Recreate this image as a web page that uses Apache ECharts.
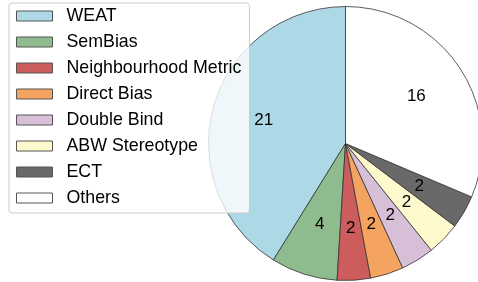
<!DOCTYPE html>
<html>
<head>
<meta charset="utf-8">
<style>
    html, body {margin: 0; padding: 0; background: #fff;}
    #chart-1 {width: 478px; height: 282px;}
</style>
<script src="https://cdn.jsdelivr.net/npm/echarts@6/dist/echarts.min.js"></script>
</head>
<body>
<div id="chart-1"></div>
<script type="text/javascript">
    // data
    var names = ['WEAT', 'SemBias', 'Neighbourhood Metric', 'Direct Bias', 'Double Bind', 'ABW Stereotype', 'ECT', 'Others'];
    var counts = [21, 4, 2, 2, 2, 2, 2, 16];
    var colors = ['#add8e6', '#8fbc8f', '#cd5c5c', '#f4a460', '#d8bfd8', '#fffacd', '#696969', '#ffffff'];

    var pieData = names.map(function (n, i) {
        return {name: n, value: counts[i], itemStyle: {color: colors[i]}};
    });
    // same slices, invisible, only used to put the numbers at 0.6 of the radius
    var labelData = names.map(function (n, i) {
        return {name: n, value: counts[i]};
    });

    var myChart = echarts.init(document.getElementById('chart-1'), null, {renderer: 'canvas'});
    var option = {
        animation: false,
        legend: {
            orient: 'vertical',
            left: 9,
            top: 3,
            data: names,
            icon: 'rect',
            itemWidth: 36,
            itemHeight: 10,
            itemGap: 8,
            padding: [4, 8, 6, 7],
            backgroundColor: 'rgba(255,255,255,0.8)',
            borderColor: '#cccccc',
            borderWidth: 1,
            borderRadius: 3,
            itemStyle: {borderColor: '#555', borderWidth: 1},
            textStyle: {
                fontFamily: 'Liberation Sans',
                fontSize: 17.8,
                lineHeight: 18,
                color: '#000',
                padding: [0, 0, 0, 9]
            },
            selectedMode: false,
            z: 10
        },
        series: [
            {
                type: 'pie',
                center: [345.5, 143.5],
                radius: 137,
                startAngle: 90,
                clockwise: false,
                data: pieData,
                label: {show: false},
                labelLine: {show: false},
                itemStyle: {borderColor: '#333', borderWidth: 0.8},
                emphasis: {disabled: true},
                silent: true
            },
            {
                type: 'pie',
                center: [345.5, 143.5],
                radius: [40, 124],
                startAngle: 90,
                clockwise: false,
                data: labelData,
                itemStyle: {color: 'rgba(0,0,0,0)', borderWidth: 0},
                label: {
                    show: true,
                    position: 'inside',
                    formatter: '{c}',
                    fontFamily: 'Liberation Sans',
                    fontSize: 17,
                    color: '#000'
                },
                labelLine: {show: false},
                emphasis: {disabled: true},
                silent: true,
                z: 3
            }
        ]
    };
    myChart.setOption(option);
</script>
</body>
</html>
